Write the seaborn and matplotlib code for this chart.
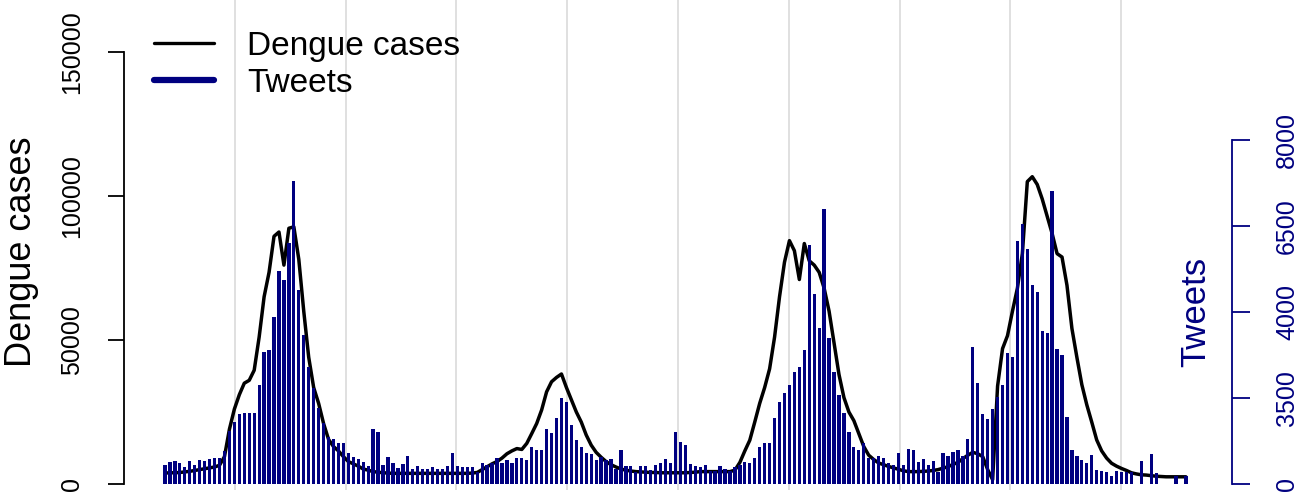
import numpy as np
import pandas as pd
import matplotlib
matplotlib.use("Agg")
import matplotlib.pyplot as plt
import seaborn as sns
from matplotlib.lines import Line2D

# ========== Data (weekly) ==========
dengue_cases = [
    3800, 3900, 3900, 4000, 4200, 4400, 4700, 5000, 5300, 5600, 5900, 6500, 9500, 19000, 26000,
    31000, 35000, 36000, 39500, 51000, 65000, 73500, 86000, 87500, 76000, 88800, 89300, 78000,
    60000, 44000, 33500, 28000, 21000, 15500, 13000, 11500, 9500,
    7800, 7000, 6200, 5200, 4800, 4300, 4100, 3900, 3800, 3700, 3700, 3700, 3700, 3700, 3700,
    3700, 3700, 3700, 3700, 3700, 3700, 3700,
    3700, 3700, 3700, 3800, 4000, 5000, 6000, 7000, 7800, 9000, 10500, 11500, 12300, 12000,
    14100, 17500, 21000, 25700, 32000, 35500, 37000, 38200,
    33500, 29300, 25000, 21500, 17000, 13500, 11000, 9300, 7800, 6700, 5900, 5200, 4800, 4500,
    4300, 4200, 4100, 4000, 4000, 3900, 3900, 3900, 3900,
    3900, 3900, 4000, 4100, 4300, 4300, 4300, 4300, 4300, 4300, 4300, 4800, 7500, 11500, 15200,
    21500, 28000, 33500, 40000, 51000, 65000, 77000,
    84500, 81000, 71000, 83500, 77500, 76000, 73500, 68000, 60000, 49000, 38000, 30000, 25000,
    22000, 17500, 13000, 10000, 8500, 7300, 6700, 6100,
    5600, 5100, 4600, 4300, 4300, 4300, 4400, 4500, 4700, 5000, 5500, 6000, 6800, 7500, 8800,
    10000, 11000, 10500, 9500, 5000, 1500, 34000, 47000, 51500,
    60000, 68000, 80000, 105000, 106700, 104000, 99000, 93000, 87000, 80000, 78800, 69000, 54000,
    44000, 34500, 27500, 21500, 15300, 11500, 9000, 7200, 6200,
    5400, 4700, 3900, 3500, 3200, 3100, 2900, 2700, 2600, 2500, 2500, 2500, 2500, 2500,
]

tweets = [
    440, 520, 540, 480, 400, 540, 440, 560, 540, 580, 600, 600, 775, 1230, 1450,
    1630, 1660, 1660, 1640, 2300, 3075, 3115, 3875, 4960, 4745, 5600, 7055, 4510, 3465, 2730,
    2225, 1760, 1410, 1085, 1055, 960, 945,
    715, 620, 580, 520, 425, 1270, 1215, 440, 620, 480, 380, 460, 650, 350, 420, 340, 340, 390,
    355, 340, 420, 730,
    420, 390, 400, 390, 285, 480, 440, 480, 600, 480, 560, 495, 610, 610, 560, 870, 790, 790,
    1270, 1180, 1530, 1990,
    1915, 1370, 1020, 870, 710, 700, 560, 620, 560, 590, 340, 790, 420, 420, 285, 420, 420, 325,
    450, 480, 590, 480, 1215,
    985, 905, 460, 430, 400, 440, 310, 310, 425, 340, 310, 400, 440, 520, 480, 600, 870, 960,
    960, 1530, 1915, 2125,
    2300, 2610, 2730, 3115, 5560, 4410, 3620, 6390, 3385, 2610, 2070, 1640, 1215, 870, 790, 945,
    600, 600, 650, 600, 480,
    440, 730, 440, 805, 790, 520, 575, 440, 540, 285, 730, 650, 750, 790, 650, 1040, 3185, 2345,
    1625, 1505, 1750, 2030, 2300, 3050,
    2945, 5660, 6045, 5455, 4630, 4475, 3560, 3520, 6820, 3130, 3000, 1565, 790, 650, 560, 480,
    675, 325, 310, 285, 185, 310,
    285, 285, 270, 0, 540, 0, 700, 255, 0, 0, 0, 185, 0, 185,
]

week = list(range(len(tweets)))

left_ticks = [0, 50000, 100000, 150000]
right_ticks = [0, 2000, 4000, 6000, 8000]
right_tick_labels = ["0", "3500", "4000", "6500", "8000"]

NAVY = "#000080"
W, H = 1310, 493

sns.set_theme(style="white")
plt.rcParams["font.family"] = ["Liberation Sans", "DejaVu Sans"]
plt.rcParams["text.color"] = "black"

df = pd.DataFrame({"week": week, "cases": dengue_cases, "tweets": tweets})

fig = plt.figure(figsize=(W / 100, H / 100), dpi=100)
ax = fig.add_axes([124 / W, 3 / H, (1232 - 124) / W, 490 / H])
ax2 = ax.twinx()

# dengue cases line
sns.lineplot(data=df, x="week", y="cases", ax=ax, color="black", lw=2.5)
# tweets as thin bars on secondary axis
sns.barplot(data=df, x="week", y="tweets", ax=ax2, native_scale=True, color=NAVY,
            saturation=1, width=0.66, errorbar=None, linewidth=0)

x0, x1 = -8.27, 215.3
ax.set_xlim(x0, x1)
ax.set_ylim(-2083, 168056)
ax2.set_ylim(-139.5, 11256)

# vertical grid, 10 equal cells
ax.set_xticks(np.linspace(x0, x1, 11)[1:-1])
ax.grid(True, axis="x", color="#E0E0E0", lw=1.4)
ax.grid(False, axis="y")
ax.tick_params(axis="x", length=0, labelbottom=False)
ax2.tick_params(axis="x", length=0, labelbottom=False)

for a in (ax, ax2):
    a.set_xlabel("")
    a.set_ylabel("")
    for s in a.spines.values():
        s.set_visible(False)

ax.spines["left"].set_visible(True)
ax.spines["left"].set_bounds(0, 150000)
ax.spines["left"].set_color("black")
ax.spines["left"].set_linewidth(1.3)
ax.set_yticks(left_ticks)
ax.set_yticklabels([str(v) for v in left_ticks])
ax.tick_params(axis="y", left=True, length=11.5, width=1.3, pad=17, labelsize=18,
               colors="black")
for t in ax.get_yticklabels():
    t.set_rotation(90)
    t.set_va("center")

ax2.spines["right"].set_visible(True)
ax2.spines["right"].set_bounds(0, 8000)
ax2.spines["right"].set_color(NAVY)
ax2.spines["right"].set_linewidth(1.3)
ax2.set_yticks(right_ticks)
ax2.set_yticklabels(right_tick_labels)
ax2.tick_params(axis="y", right=True, length=13, width=1.3, pad=18, labelsize=18,
                colors=NAVY)
for t in ax2.get_yticklabels():
    t.set_rotation(90)
    t.set_va("center")

fig.text(22 / W, 1 - 252 / H, "Dengue cases", rotation=90, ha="center", va="center",
         fontsize=26, color="black")
fig.text(1196 / W, 1 - 312 / H, "Tweets", rotation=90, ha="center", va="center",
         fontsize=25, color=NAVY)

handles = [Line2D([], [], color="black", lw=2.4), Line2D([], [], color=NAVY, lw=4.5)]
fig.legend(handles, ["Dengue cases", "Tweets"], loc="upper left",
           bbox_to_anchor=(154 / W, 1 - 31 / H), frameon=False, fontsize=24,
           handlelength=1.8, handletextpad=1.0, labelspacing=0.18,
           borderpad=0, borderaxespad=0, labelcolor="black")

fig.savefig("out.png", dpi=100)
